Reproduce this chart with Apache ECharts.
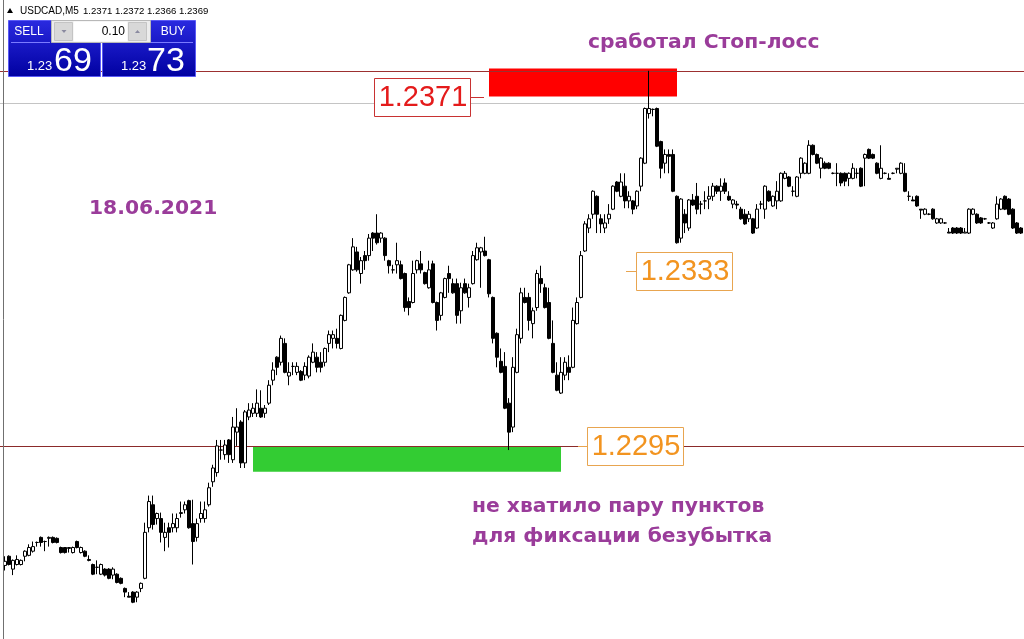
<!DOCTYPE html>
<html><head><meta charset="utf-8">
<script src="https://cdn.jsdelivr.net/npm/echarts@6/dist/echarts.min.js"></script>
<style>html,body{margin:0;padding:0;background:#fff;overflow:hidden}#c{width:1024px;height:639px}</style>
</head><body><div id="c"></div><script>
// USDCAD M5, 18.06.2021 — candle values
const opens=[
1.22690,1.22710,1.22682,1.22692,1.22692,1.22710,1.22712,1.22721,1.22740,1.22751,
1.22742,1.22749,1.22751,1.22749,1.22729,1.22729,1.22727,1.22718,1.22742,1.22718,
1.22721,1.22703,1.22692,1.22686,1.22671,1.22682,1.22682,1.22669,1.22671,1.22662,
1.22640,1.22623,1.22632,1.22621,1.22640,1.22662,1.22772,1.22822,1.22792,1.22792,
1.22751,1.22772,1.22772,1.22772,1.22803,1.22811,1.22831,1.22781,1.22751,1.22792,
1.22792,1.22822,1.22872,1.22892,1.22941,1.22931,1.22963,1.22920,1.22980,1.23002,
1.22913,1.23013,1.23021,1.23021,1.23032,1.23021,1.23043,1.23093,1.23143,1.23132,
1.23173,1.23102,1.23123,1.23110,1.23112,1.23104,1.23102,1.23132,1.23143,1.23132,
1.23132,1.23173,1.23184,1.23184,1.23162,1.23223,1.23283,1.23333,1.23372,1.23325,
1.23364,1.23364,1.23413,1.23413,1.23402,1.23402,1.23353,1.23333,1.23344,1.23344,
1.23325,1.23264,1.23262,1.23333,1.23346,1.23327,1.23294,1.23346,1.23262,1.23234,
1.23273,1.23325,1.23303,1.23303,1.23244,1.23303,1.23273,1.23303,1.23355,1.23372,
1.23374,1.23355,1.23273,1.23195,1.23134,1.23123,1.23043,1.22991,1.23110,1.23184,
1.23273,1.23273,1.23216,1.23251,1.23314,1.23294,1.23262,1.23173,1.23104,1.23065,
1.23104,1.23121,1.23121,1.23216,1.23273,1.23374,1.23424,1.23454,1.23493,1.23444,
1.23424,1.23444,1.23465,1.23524,1.23493,1.23515,1.23483,1.23483,1.23472,1.23515,
1.23565,1.23673,1.23682,1.23684,1.23612,1.23565,1.23584,1.23584,1.23493,1.23402,
1.23454,1.23424,1.23485,1.23493,1.23476,1.23483,1.23487,1.23493,1.23515,1.23504,
1.23522,1.23493,1.23476,1.23476,1.23465,1.23454,1.23444,1.23444,1.23424,1.23476,
1.23465,1.23504,1.23472,1.23483,1.23483,1.23532,1.23535,1.23504,1.23493,1.23543,
1.23543,1.23543,1.23604,1.23584,1.23554,1.23565,1.23565,1.23543,1.23543,1.23543,
1.23543,1.23532,1.23532,1.23543,1.23554,1.23576,1.23595,1.23584,1.23565,1.23532,
1.23543,1.23532,1.23543,1.23552,1.23543,1.23543,1.23493,1.23485,1.23493,1.23465,
1.23454,1.23454,1.23465,1.23435,1.23435,1.23435,1.23415,1.23424,1.23424,1.23424,
1.23413,1.23413,1.23454,1.23454,1.23446,1.23444,1.23435,1.23424,1.23444,1.23465,
1.23493,1.23487,1.23465,1.23435,1.23424];
const closes=[
1.22699,1.22692,1.22701,1.22703,1.22701,1.22721,1.22729,1.22731,1.22740,1.22740,
1.22742,1.22751,1.22740,1.22740,1.22718,1.22718,1.22729,1.22729,1.22729,1.22729,
1.22710,1.22701,1.22671,1.22686,1.22692,1.22669,1.22662,1.22682,1.22653,1.22651,
1.22632,1.22621,1.22610,1.22632,1.22651,1.22762,1.22829,1.22779,1.22803,1.22762,
1.22762,1.22762,1.22781,1.22792,1.22805,1.22822,1.22772,1.22742,1.22781,1.22803,
1.22811,1.22859,1.22902,1.22950,1.22941,1.22952,1.22931,1.22991,1.22991,1.22913,
1.23024,1.23028,1.23032,1.23043,1.23013,1.23032,1.23082,1.23115,1.23121,1.23184,
1.23110,1.23110,1.23123,1.23123,1.23093,1.23123,1.23143,1.23154,1.23121,1.23121,
1.23162,1.23192,1.23192,1.23173,1.23234,1.23273,1.23344,1.23383,1.23333,1.23353,
1.23353,1.23402,1.23402,1.23392,1.23413,1.23364,1.23342,1.23333,1.23353,1.23314,
1.23251,1.23251,1.23325,1.23353,1.23333,1.23303,1.23333,1.23262,1.23223,1.23283,
1.23314,1.23314,1.23283,1.23234,1.23294,1.23283,1.23294,1.23364,1.23381,1.23381,
1.23364,1.23281,1.23184,1.23143,1.23110,1.23032,1.22980,1.23121,1.23192,1.23283,
1.23262,1.23223,1.23244,1.23325,1.23303,1.23251,1.23184,1.23110,1.23071,1.23110,
1.23132,1.23110,1.23223,1.23262,1.23364,1.23433,1.23444,1.23504,1.23454,1.23433,
1.23435,1.23454,1.23515,1.23504,1.23524,1.23483,1.23493,1.23465,1.23504,1.23576,
1.23684,1.23684,1.23682,1.23602,1.23554,1.23584,1.23580,1.23504,1.23392,1.23487,
1.23435,1.23485,1.23474,1.23465,1.23476,1.23483,1.23493,1.23515,1.23504,1.23515,
1.23504,1.23485,1.23485,1.23474,1.23444,1.23433,1.23454,1.23413,1.23465,1.23476,
1.23515,1.23483,1.23493,1.23504,1.23543,1.23543,1.23515,1.23504,1.23535,1.23576,
1.23565,1.23604,1.23584,1.23565,1.23576,1.23554,1.23554,1.23543,1.23543,1.23522,
1.23526,1.23543,1.23554,1.23543,1.23515,1.23584,1.23576,1.23576,1.23543,1.23554,
1.23543,1.23530,1.23543,1.23554,1.23565,1.23504,1.23493,1.23483,1.23472,1.23463,
1.23465,1.23454,1.23444,1.23444,1.23444,1.23435,1.23413,1.23413,1.23413,1.23413,
1.23415,1.23465,1.23465,1.23435,1.23435,1.23444,1.23435,1.23435,1.23476,1.23487,
1.23465,1.23454,1.23424,1.23413,1.23413];
const lows=[
1.22679,1.22690,1.22669,1.22690,1.22690,1.22699,1.22710,1.22718,1.22731,1.22731,
1.22721,1.22731,1.22738,1.22738,1.22716,1.22716,1.22718,1.22716,1.22727,1.22716,
1.22708,1.22699,1.22669,1.22671,1.22669,1.22666,1.22660,1.22660,1.22651,1.22649,
1.22621,1.22621,1.22608,1.22610,1.22632,1.22660,1.22762,1.22768,1.22779,1.22740,
1.22721,1.22729,1.22762,1.22762,1.22794,1.22803,1.22770,1.22692,1.22742,1.22783,
1.22783,1.22818,1.22861,1.22883,1.22920,1.22920,1.22913,1.22913,1.22950,1.22902,
1.22902,1.23006,1.23013,1.23013,1.23011,1.23011,1.23039,1.23082,1.23104,1.23125,
1.23108,1.23082,1.23104,1.23104,1.23091,1.23093,1.23097,1.23130,1.23110,1.23110,
1.23123,1.23154,1.23162,1.23162,1.23160,1.23221,1.23281,1.23331,1.23329,1.23303,
1.23333,1.23353,1.23374,1.23388,1.23392,1.23353,1.23325,1.23325,1.23325,1.23312,
1.23242,1.23234,1.23260,1.23325,1.23325,1.23301,1.23292,1.23260,1.23201,1.23223,
1.23271,1.23283,1.23281,1.23216,1.23216,1.23281,1.23251,1.23301,1.23353,1.23294,
1.23362,1.23273,1.23173,1.23121,1.23108,1.23030,1.22941,1.22980,1.23108,1.23173,
1.23260,1.23201,1.23184,1.23244,1.23283,1.23249,1.23182,1.23108,1.23069,1.23063,
1.23093,1.23093,1.23119,1.23214,1.23271,1.23372,1.23413,1.23444,1.23413,1.23413,
1.23413,1.23433,1.23463,1.23502,1.23491,1.23467,1.23467,1.23454,1.23465,1.23504,
1.23563,1.23662,1.23667,1.23600,1.23532,1.23543,1.23543,1.23502,1.23390,1.23392,
1.23413,1.23418,1.23472,1.23454,1.23454,1.23465,1.23465,1.23483,1.23498,1.23483,
1.23498,1.23483,1.23467,1.23465,1.23442,1.23431,1.23437,1.23411,1.23422,1.23465,
1.23444,1.23481,1.23470,1.23465,1.23481,1.23530,1.23513,1.23493,1.23491,1.23532,
1.23541,1.23541,1.23582,1.23563,1.23532,1.23552,1.23552,1.23541,1.23515,1.23515,
1.23515,1.23515,1.23530,1.23532,1.23513,1.23515,1.23574,1.23574,1.23541,1.23530,
1.23541,1.23530,1.23541,1.23543,1.23541,1.23502,1.23483,1.23483,1.23470,1.23444,
1.23452,1.23452,1.23442,1.23433,1.23433,1.23433,1.23413,1.23411,1.23411,1.23411,
1.23413,1.23411,1.23452,1.23433,1.23433,1.23442,1.23433,1.23422,1.23442,1.23463,
1.23463,1.23452,1.23422,1.23411,1.23411];
const highs=[
1.22710,1.22712,1.22703,1.22712,1.22703,1.22723,1.22736,1.22742,1.22742,1.22753,
1.22744,1.22753,1.22753,1.22751,1.22731,1.22729,1.22729,1.22731,1.22744,1.22731,
1.22723,1.22712,1.22694,1.22701,1.22694,1.22684,1.22684,1.22686,1.22673,1.22664,
1.22642,1.22632,1.22634,1.22634,1.22653,1.22783,1.22842,1.22842,1.22805,1.22805,
1.22783,1.22783,1.22803,1.22803,1.22829,1.22829,1.22833,1.22833,1.22792,1.22829,
1.22829,1.22870,1.22909,1.22963,1.22963,1.22963,1.22965,1.23013,1.23032,1.23006,
1.23028,1.23043,1.23043,1.23073,1.23071,1.23039,1.23093,1.23132,1.23145,1.23190,
1.23184,1.23132,1.23132,1.23132,1.23115,1.23132,1.23147,1.23173,1.23154,1.23154,
1.23164,1.23201,1.23201,1.23205,1.23236,1.23275,1.23346,1.23402,1.23383,1.23361,
1.23374,1.23411,1.23415,1.23454,1.23415,1.23404,1.23355,1.23344,1.23392,1.23353,
1.23327,1.23273,1.23353,1.23355,1.23374,1.23329,1.23353,1.23353,1.23264,1.23285,
1.23316,1.23342,1.23314,1.23314,1.23305,1.23314,1.23303,1.23374,1.23392,1.23383,
1.23405,1.23357,1.23275,1.23197,1.23162,1.23154,1.23054,1.23143,1.23205,1.23294,
1.23294,1.23283,1.23251,1.23333,1.23342,1.23303,1.23294,1.23223,1.23132,1.23143,
1.23143,1.23147,1.23251,1.23273,1.23374,1.23439,1.23454,1.23506,1.23495,1.23454,
1.23454,1.23476,1.23517,1.23526,1.23543,1.23543,1.23504,1.23485,1.23506,1.23578,
1.23686,1.23766,1.23684,1.23686,1.23614,1.23595,1.23595,1.23595,1.23495,1.23489,
1.23465,1.23487,1.23498,1.23522,1.23483,1.23504,1.23515,1.23522,1.23517,1.23532,
1.23532,1.23504,1.23487,1.23483,1.23470,1.23465,1.23461,1.23446,1.23476,1.23483,
1.23517,1.23506,1.23495,1.23526,1.23545,1.23548,1.23537,1.23515,1.23537,1.23578,
1.23567,1.23615,1.23606,1.23586,1.23578,1.23569,1.23567,1.23545,1.23565,1.23545,
1.23545,1.23545,1.23565,1.23554,1.23556,1.23586,1.23597,1.23586,1.23567,1.23604,
1.23545,1.23543,1.23545,1.23554,1.23567,1.23565,1.23504,1.23493,1.23495,1.23465,
1.23467,1.23456,1.23467,1.23446,1.23446,1.23437,1.23424,1.23426,1.23426,1.23426,
1.23424,1.23467,1.23467,1.23456,1.23448,1.23446,1.23437,1.23437,1.23493,1.23489,
1.23495,1.23489,1.23467,1.23437,1.23426];
const bars = opens.map((_, i) => String(i + 1));

// levels and zones
const stopLossLevel = 1.23766;
const bidLevel = 1.23695;
const lowLevel = 1.2295;
const stopZone = { from: 121, to: 168, top: 1.23771, bottom: 1.23710 };
const missZone = { from: 62, to: 139, top: 1.2295, bottom: 1.22894 };
const priceTags = ['1.2371', '1.2333', '1.2295'];

// texts
const headerSymbol = 'USDCAD,M5';
const headerQuote = '1.2371 1.2372 1.2366 1.2369';
const lotText = '0.10';
const bigPrefix = '1.23';
const sellBig = '69', buyBig = '73';
const noteStop = 'сработал Стоп-лосс';
const noteDate = '18.06.2021';
const noteMiss1 = 'не хватило пару пунктов';
const noteMiss2 = 'для фиксации безубытка';

const chart = echarts.init(document.getElementById('c'), null, { renderer: 'canvas' });
const ohlc = opens.map((o, i) => [o, closes[i], lows[i], highs[i]]);

chart.setOption({
  animation: false,
  backgroundColor: '#ffffff',
  grid: { left: 3, right: 1, top: -2, bottom: -1 },
  xAxis: { type: 'category', data: bars, show: false, boundaryGap: true },
  yAxis: { type: 'value', min: 1.2253, max: 1.2392, show: false },
  series: [{
    type: 'candlestick',
    z: 5,
    data: ohlc,
    barWidth: 3,
    itemStyle: { color: '#ffffff', color0: '#000000', borderColor: '#000000', borderColor0: '#000000', borderWidth: 1 },
    markArea: {
      silent: true,
      data: [
        [{ coord: [stopZone.from, stopZone.top], itemStyle: { color: '#ff0000', opacity: 1 } }, { coord: [stopZone.to, stopZone.bottom] }],
        [{ coord: [missZone.from, missZone.top], itemStyle: { color: '#33cc33', opacity: 1 } }, { coord: [missZone.to, missZone.bottom] }]
      ]
    }
  }]
});

const py = p => chart.convertToPixel({ yAxisIndex: 0 }, p);
const blue = () => new echarts.graphic.LinearGradient(0, 0, 0, 1, [{ offset: 0, color: '#2a2ae0' }, { offset: 1, color: '#0000a0' }]);
const purple = '#9a3c9a';
const noteFont = 'bold 20.3px "DejaVu Sans"';

function level(price, color) {
  const y = Math.round(py(price)) + 0.5;
  return { type: 'line', shape: { x1: 0, y1: y, x2: 1024, y2: y }, style: { stroke: color, lineWidth: 1 }, z: 1 };
}

function tag(text, price, left, dashFrom, dashTo, color, border) {
  const y = Math.round(py(price));
  return [
    { type: 'line', shape: { x1: dashFrom, y1: y + 0.5, x2: dashTo, y2: y + 0.5 }, style: { stroke: border, lineWidth: 1 }, z: 20 },
    { type: 'rect', shape: { x: left + 0.5, y: y - 18.5, width: 96, height: 38 }, style: { fill: '#ffffff', stroke: border, lineWidth: 1 }, z: 20 },
    { type: 'text', x: left + 49, y: y + 1, style: { text: text, fill: color, font: '29px "Liberation Sans"', align: 'center', verticalAlign: 'middle' }, z: 21 }
  ];
}

const g = [];
// price levels (drawn under the candles)
g.push(level(stopLossLevel, '#9c3030'));
g.push(level(bidLevel, '#c4c4c4'));
g.push(level(lowLevel, '#8b2a2a'));
// left frame line
g.push({ type: 'line', shape: { x1: 3.5, y1: 0, x2: 3.5, y2: 639 }, style: { stroke: '#707070', lineWidth: 1 }, z: 30 });
// header
g.push({ type: 'polygon', shape: { points: [[7, 13], [10, 8], [13, 13]] }, style: { fill: '#000' }, z: 30 });
g.push({ type: 'text', x: 20, y: 11, style: { text: headerSymbol, fill: '#000', font: '10px "Liberation Sans"', verticalAlign: 'middle' }, z: 30 });
g.push({ type: 'text', x: 83, y: 11, style: { text: headerQuote, fill: '#000', font: '9.6px "Liberation Sans"', verticalAlign: 'middle' }, z: 30 });
// one-click panel
g.push({ type: 'rect', shape: { x: 8.5, y: 20.5, width: 92, height: 56 }, style: { fill: blue(), stroke: '#5a5af5', lineWidth: 1 }, z: 30 });
g.push({ type: 'rect', shape: { x: 102.5, y: 20.5, width: 93, height: 56 }, style: { fill: blue(), stroke: '#5a5af5', lineWidth: 1 }, z: 30 });
g.push({ type: 'line', shape: { x1: 11, y1: 42.5, x2: 50, y2: 42.5 }, style: { stroke: '#7b7bff', lineWidth: 1 }, z: 31 });
g.push({ type: 'line', shape: { x1: 151, y1: 42.5, x2: 193, y2: 42.5 }, style: { stroke: '#7b7bff', lineWidth: 1 }, z: 31 });
g.push({ type: 'rect', shape: { x: 51.5, y: 20.5, width: 99, height: 22 }, style: { fill: '#ececec', stroke: '#b8b8b8', lineWidth: 1 }, z: 31 });
g.push({ type: 'rect', shape: { x: 54.5, y: 22.5, width: 18, height: 18 }, style: { fill: '#d8d8d8', stroke: '#c4c4c4', lineWidth: 1 }, z: 32 });
g.push({ type: 'rect', shape: { x: 73.5, y: 21.5, width: 54, height: 20 }, style: { fill: '#ffffff' }, z: 32 });
g.push({ type: 'rect', shape: { x: 128.5, y: 22.5, width: 18, height: 18 }, style: { fill: '#d8d8d8', stroke: '#c4c4c4', lineWidth: 1 }, z: 32 });
g.push({ type: 'polygon', shape: { points: [[61.5, 30], [66.5, 30], [64, 33]] }, style: { fill: '#8a8aa0' }, z: 33 });
g.push({ type: 'polygon', shape: { points: [[135, 33], [140, 33], [137.5, 30]] }, style: { fill: '#8a8aa0' }, z: 33 });
g.push({ type: 'text', x: 125, y: 32, style: { text: lotText, fill: '#000', font: '12px "Liberation Sans"', align: 'right', verticalAlign: 'middle' }, z: 33 });
g.push({ type: 'text', x: 29, y: 32, style: { text: 'SELL', fill: '#fff', font: '12px "Liberation Sans"', align: 'center', verticalAlign: 'middle' }, z: 33 });
g.push({ type: 'text', x: 173, y: 32, style: { text: 'BUY', fill: '#fff', font: '12px "Liberation Sans"', align: 'center', verticalAlign: 'middle' }, z: 33 });
g.push({ type: 'text', x: 27, y: 73, style: { text: bigPrefix, fill: '#fff', font: '13px "Liberation Sans"', verticalAlign: 'bottom' }, z: 33 });
g.push({ type: 'text', x: 54, y: 79, style: { text: sellBig, fill: '#fff', font: '34px "Liberation Sans"', verticalAlign: 'bottom' }, z: 33 });
g.push({ type: 'text', x: 121, y: 73, style: { text: bigPrefix, fill: '#fff', font: '13px "Liberation Sans"', verticalAlign: 'bottom' }, z: 33 });
g.push({ type: 'text', x: 147, y: 79, style: { text: buyBig, fill: '#fff', font: '34px "Liberation Sans"', verticalAlign: 'bottom' }, z: 33 });
// price tags
g.push(...tag(priceTags[0], 1.2371, 374, 470, 484, '#e41b1b', '#c83232'));
g.push(...tag(priceTags[1], 1.2333, 636, 626, 636, '#f29420', '#e8a550'));
g.push(...tag(priceTags[2], 1.2295, 587, 578, 588, '#f29420', '#e8a550'));
// notes
g.push({ type: 'text', x: 588, y: 43, style: { text: noteStop, fill: purple, font: noteFont, verticalAlign: 'middle' }, z: 30 });
g.push({ type: 'text', x: 89, y: 209, style: { text: noteDate, fill: purple, font: noteFont, verticalAlign: 'middle' }, z: 30 });
g.push({ type: 'text', x: 472, y: 507, style: { text: noteMiss1, fill: purple, font: noteFont, verticalAlign: 'middle' }, z: 30 });
g.push({ type: 'text', x: 472, y: 537, style: { text: noteMiss2, fill: purple, font: noteFont, verticalAlign: 'middle' }, z: 30 });

chart.setOption({ graphic: g });
</script></body></html>
